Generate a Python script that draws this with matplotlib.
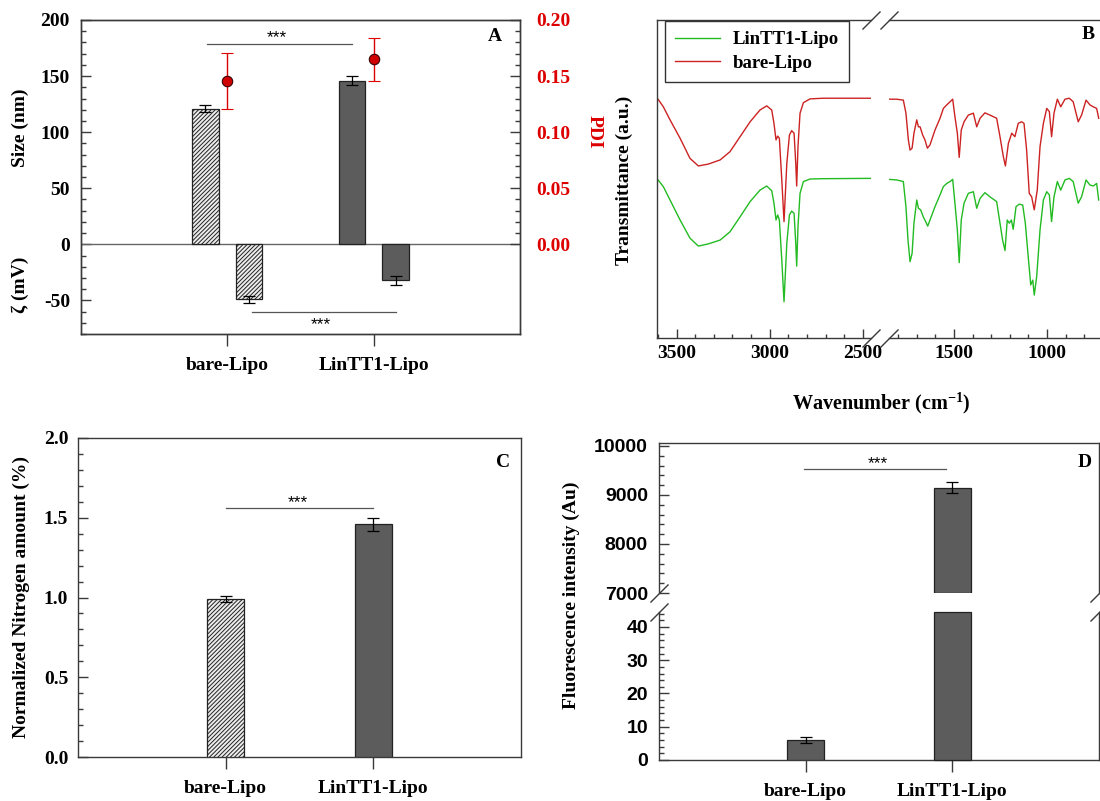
import matplotlib
matplotlib.use('Agg')
import matplotlib.pyplot as plt
from matplotlib.ticker import FixedLocator, MultipleLocator
import numpy as np

plt.rcParams['font.family'] = ['Liberation Serif', 'DejaVu Serif']
plt.rcParams['font.weight'] = 'bold'
plt.rcParams['mathtext.fontset'] = 'custom'
plt.rcParams['mathtext.rm'] = 'Liberation Serif:bold'
plt.rcParams['mathtext.bf'] = 'Liberation Serif:bold'
plt.rcParams['hatch.linewidth'] = 0.7
plt.rcParams['axes.linewidth'] = 1.0

# ---------------- data ----------------
categories = ['bare-Lipo', 'LinTT1-Lipo']
size_nm = [121, 146]
size_err = [3, 4]
zeta_mv = [-49, -32]
zeta_err = [3, 4]
pdi = [0.146, 0.165]
pdi_err = [0.025, 0.019]
nitrogen = [0.99, 1.46]
nitrogen_err = [0.02, 0.04]
fluor = [6, 9150]
fluor_err = [0.9, 120]

ftir_wn_high = [3603, 3571, 3535, 3481, 3428, 3383, 3329, 3266, 3213, 3159, 3105, 3052,
                3016, 2989, 2977, 2966, 2957, 2948, 2935, 2923, 2908, 2894, 2882, 2869,
                2860, 2855, 2848, 2837, 2819, 2783, 2712, 2458]
bare_T_high = [75.4, 72.7, 68.6, 62.8, 56.5, 54.1, 54.7, 56.0, 58.6, 63.3, 68.0, 71.7,
               73.0, 71.7, 67.5, 62.3, 63.5, 62.8, 49.7, 36.6, 54.9, 63.8, 65.2, 64.4,
               54.9, 47.8, 60.2, 70.7, 74.0, 75.2, 75.4, 75.4]
lin_T_high = [50.0, 47.6, 43.4, 37.1, 31.4, 28.9, 29.6, 30.8, 33.4, 38.1, 42.9, 46.5,
              47.8, 46.3, 42.4, 37.1, 38.7, 37.1, 24.5, 11.4, 29.8, 38.7, 39.9, 39.2,
              29.8, 22.6, 35.0, 45.5, 49.2, 50.0, 50.1, 50.2]

bare_wn_low = [1853, 1808, 1772, 1758, 1745, 1736, 1725, 1715, 1700, 1691, 1682, 1668,
               1656, 1643, 1629, 1602, 1575, 1557, 1539, 1521, 1507, 1495, 1482, 1472,
               1461, 1446, 1423, 1396, 1378, 1360, 1334, 1307, 1271, 1253, 1235, 1224,
               1208, 1190, 1173, 1155, 1137, 1124, 1110, 1096, 1083, 1069, 1053, 1038,
               1020, 1002, 988, 976, 963, 945, 927, 904, 881, 860, 833, 815, 791, 770,
               752, 734, 723]
bare_T_low = [75.1, 75.1, 74.8, 70.7, 62.3, 59.1, 59.7, 64.4, 68.6, 66.4, 66.4, 63.8,
              62.3, 59.7, 60.7, 65.4, 69.1, 72.2, 73.3, 74.3, 75.1, 69.6, 64.4, 56.8,
              65.4, 68.0, 70.1, 70.7, 66.4, 69.1, 70.8, 70.1, 69.1, 63.3, 57.0, 54.1,
              61.2, 64.4, 63.3, 67.5, 68.0, 67.5, 59.1, 45.5, 44.4, 40.3, 46.5, 60.2,
              67.5, 72.2, 71.2, 63.3, 70.7, 75.1, 72.7, 75.1, 75.4, 74.3, 68.0, 70.1,
              74.8, 73.3, 72.7, 72.2, 69.1]
lin_wn_low = [1853, 1808, 1772, 1758, 1747, 1736, 1725, 1715, 1700, 1691, 1679, 1665,
              1652, 1641, 1629, 1602, 1575, 1557, 1539, 1521, 1507, 1495, 1482, 1472,
              1461, 1446, 1423, 1396, 1378, 1360, 1334, 1307, 1271, 1253, 1239, 1226,
              1214, 1203, 1192, 1182, 1167, 1149, 1131, 1117, 1103, 1088, 1077, 1069,
              1056, 1038, 1020, 1002, 988, 976, 963, 945, 927, 904, 881, 860, 833, 815,
              791, 770, 752, 734, 723]
lin_T_low = [49.9, 49.7, 49.2, 41.3, 30.8, 24.0, 26.6, 36.1, 43.4, 40.8, 40.3, 38.1,
             36.6, 35.2, 37.1, 41.3, 45.0, 47.6, 48.6, 49.2, 49.9, 42.4, 34.0, 23.7,
             37.1, 42.4, 45.5, 46.0, 40.8, 43.9, 45.7, 44.4, 42.9, 36.1, 30.8, 27.5,
             37.1, 36.1, 37.1, 34.2, 41.3, 42.1, 41.8, 36.1, 26.6, 16.7, 18.2, 13.5,
             19.3, 34.0, 43.4, 46.0, 45.0, 36.6, 44.4, 49.2, 46.5, 49.7, 50.2, 49.2,
             42.4, 44.4, 49.7, 48.1, 47.8, 48.6, 43.4]

# ---------------- styles ----------------
W, H = 1100, 801
SPINE = '#3a3a3a'
DARK = '#5c5c5c'
LIGHT = '#ececec'
EDGE = '#222222'
RED = '#dd0000'
SIG = '#555555'
FS = 14
hatches = ['////////', None]
faces = [LIGHT, DARK]
ekw = dict(elinewidth=0.9, capthick=0.9, ecolor='black')

fig = plt.figure(figsize=(W / 100, H / 100), dpi=100)


def rect(l, r, t, b):
    return [l / W, (H - b) / H, (r - l) / W, (b - t) / H]


def style_spines(ax):
    for s in ax.spines.values():
        s.set_color(SPINE)
        s.set_linewidth(1.0)


def cat_xaxis(ax):
    ax.set_xlim(0, 3)
    ax.set_xticks(np.arange(1, len(categories) + 1), labels=categories,
                  fontsize=FS, fontweight='bold')
    ax.tick_params(axis='x', direction='out', length=8.5, width=1.0, pad=8,
                   color=SPINE, top=False)


def slash(ax, xs, ys):
    ax.plot(xs, ys, transform=ax.transAxes, marker=[(-1, -1), (1, 1)],
            markersize=13, linestyle='none', color=SPINE, mec=SPINE, mew=1.0,
            clip_on=False, zorder=10)


x = np.arange(1, len(categories) + 1)

# ---------------- Panel A ----------------
axA = fig.add_axes(rect(81, 520, 20, 334))
style_spines(axA)
off, bwA = 0.15, 0.18
for i in range(len(categories)):
    axA.bar(x[i] - off, size_nm[i], bwA, yerr=size_err[i], color=faces[i],
            hatch=hatches[i], edgecolor=EDGE, linewidth=0.9, capsize=4,
            error_kw=ekw, zorder=3)
    axA.bar(x[i] + off, zeta_mv[i], bwA, yerr=zeta_err[i], color=faces[i],
            hatch=hatches[i], edgecolor=EDGE, linewidth=0.9, capsize=4,
            error_kw=ekw, zorder=3)
axA.axhline(0, color='#666666', lw=1.0, zorder=2)
axA.set_ylim(-80, 200)
a_major = [-50, 0, 50, 100, 150, 200]
axA.set_yticks(a_major, labels=[str(v) for v in a_major],
               fontsize=FS, fontweight='bold')
axA.yaxis.set_minor_locator(FixedLocator([v for v in range(-80, 201, 10) if v % 50]))
axA.tick_params(axis='y', which='major', direction='in', length=7, width=1.0,
                pad=8, color=SPINE, right=False)
axA.tick_params(axis='y', which='minor', direction='in', length=3.5, width=1.0,
                color=SPINE, right=False)
cat_xaxis(axA)

axA.plot([0.86, 1.85], [178.5, 178.5], color=SIG, lw=0.9)
axA.text(1.34, 180, '***', ha='center', va='baseline', fontsize=12.5,
         fontweight='normal', family='Liberation Sans')
axA.plot([1.17, 2.15], [-60.5, -60.5], color=SIG, lw=0.9)
axA.text(1.64, -76, '***', ha='center', va='baseline', fontsize=12.5,
         fontweight='normal', family='Liberation Sans')
axA.text(0.942, 0.946, 'A', transform=axA.transAxes, ha='center', va='center',
         fontsize=FS, fontweight='bold')

axA2 = axA.twinx()
style_spines(axA2)
axA2.set_ylim(-0.08, 0.20)
p_major = [0.0, 0.05, 0.10, 0.15, 0.20]
axA2.set_yticks(p_major, labels=['%.2f' % v for v in p_major], fontsize=FS,
                fontweight='bold', color=RED)
axA2.yaxis.set_minor_locator(FixedLocator([k / 100 for k in range(1, 20) if k % 5]))
axA2.tick_params(axis='y', which='major', direction='in', length=7, width=1.0,
                 pad=12, color=SPINE)
axA2.tick_params(axis='y', which='minor', direction='in', length=3.5, width=1.0,
                 color=SPINE)
axA2.errorbar(x, pdi, yerr=pdi_err, fmt='o', color=RED, mfc='#d00000', mec='#3a0000',
              mew=0.8, ms=7.5, capsize=4, elinewidth=1.0, capthick=1.0, zorder=5)

fig.text(20 / W, 1 - 128 / H, 'Size (nm)', rotation=90, ha='center', va='center',
         fontsize=FS, fontweight='bold')
fig.text(20 / W, 1 - 285 / H, '\u03b6 (mV)', rotation=90, ha='center', va='center',
         fontsize=FS, fontweight='bold')
fig.text(594 / W, 1 - 132 / H, 'PDI', rotation=270, ha='center', va='center',
         fontsize=FS, fontweight='bold', color=RED)

# ---------------- Panel B ----------------
GREEN = '#22bb22'
BRED = '#cc2222'
axB1 = fig.add_axes(rect(657, 871, 20, 338))
axB2 = fig.add_axes(rect(889, 1100, 20, 338))
for ax in (axB1, axB2):
    style_spines(ax)
    ax.set_ylim(0, 100)
    ax.set_yticks([])
    ax.xaxis.set_minor_locator(MultipleLocator(100))
    ax.tick_params(axis='x', which='major', direction='in', length=6.5, width=1.0,
                   pad=5, color=SPINE, top=False, labelsize=FS)
    ax.tick_params(axis='x', which='minor', direction='in', length=3, width=1.0,
                   color=SPINE, top=False)
axB1.spines['right'].set_visible(False)
axB2.spines['left'].set_visible(False)
axB2.spines['right'].set_visible(False)
axB1.set_xlim(3605, 2456)
axB2.set_xlim(1849, 716)
axB1.set_xticks([3500, 3000, 2500], labels=['3500', '3000', '2500'], fontweight='bold')
axB2.set_xticks([1500, 1000], labels=['1500', '1000'], fontweight='bold')

lg, = axB1.plot(ftir_wn_high, lin_T_high, color=GREEN, lw=1.0, label='LinTT1-Lipo')
lr, = axB1.plot(ftir_wn_high, bare_T_high, color=BRED, lw=1.0, label='bare-Lipo')
axB2.plot(lin_wn_low, lin_T_low, color=GREEN, lw=1.0)
axB2.plot(bare_wn_low, bare_T_low, color=BRED, lw=1.0)

slash(axB1, [1, 1], [0, 1])
slash(axB2, [0, 0], [0, 1])

leg = axB1.legend(handles=[lg, lr], loc='upper left', bbox_to_anchor=(0.037, 0.997),
                  borderaxespad=0, fancybox=False, framealpha=1, edgecolor='#333333',
                  prop={'family': 'Liberation Serif', 'weight': 'bold', 'size': 13.5},
                  handlelength=2.4, handletextpad=0.65, labelspacing=0.33,
                  borderpad=0.55)
leg.get_frame().set_linewidth(1.0)

axB2.text(0.943, 0.953, 'B', transform=axB2.transAxes, ha='center', va='center',
          fontsize=FS, fontweight='bold')
fig.text(624 / W, 1 - 180 / H, 'Transmittance (a.u.)', rotation=90, ha='center',
         va='center', fontsize=FS, fontweight='bold')
fig.text(881 / W, 1 - 403 / H, r'Wavenumber (cm$^{\mathbf{-1}}$)', ha='center',
         va='center', fontsize=14.5, fontweight='bold')

# ---------------- Panel C ----------------
axC = fig.add_axes(rect(78, 521, 438, 757))
style_spines(axC)
bw = 0.25
for i in range(len(categories)):
    axC.bar(x[i], nitrogen[i], bw, yerr=nitrogen_err[i], color=faces[i],
            hatch=hatches[i], edgecolor=EDGE, linewidth=0.9, capsize=4,
            error_kw=ekw, zorder=3)
axC.set_ylim(0, 2.0)
c_major = [0.0, 0.5, 1.0, 1.5, 2.0]
axC.set_yticks(c_major, labels=['%.1f' % v for v in c_major], fontsize=FS,
               fontweight='bold')
axC.yaxis.set_minor_locator(FixedLocator([k / 10 for k in range(1, 20) if k % 5]))
axC.tick_params(axis='y', which='major', direction='in', length=7, width=1.0,
                pad=7, color=SPINE, right=False)
axC.tick_params(axis='y', which='minor', direction='in', length=3.5, width=1.0,
                color=SPINE, right=False)
cat_xaxis(axC)
axC.plot([1.0, 2.0], [1.56, 1.56], color=SIG, lw=0.9)
axC.text(1.49, 1.565, '***', ha='center', va='baseline', fontsize=12.5,
         fontweight='normal', family='Liberation Sans')
axC.text(0.959, 0.922, 'C', transform=axC.transAxes, ha='center', va='center',
         fontsize=FS, fontweight='bold')
fig.text(21 / W, 1 - 597 / H, 'Normalized Nitrogen amount (%)', rotation=90,
         ha='center', va='center', fontsize=FS, fontweight='bold')

# ---------------- Panel D ----------------
axD1 = fig.add_axes(rect(659, 1099, 443, 593))
axD2 = fig.add_axes(rect(659, 1099, 612, 760))
for ax in (axD1, axD2):
    style_spines(ax)
axD1.spines['bottom'].set_visible(False)
axD2.spines['top'].set_visible(False)
up_lo, up_hi = 7000, 10060
lo_hi = 44.5
axD1.set_ylim(up_lo, up_hi)
axD2.set_ylim(0, lo_hi)
axD1.set_xlim(0, 3)

for i in range(len(categories)):
    if fluor[i] > up_lo:
        axD1.bar(x[i], fluor[i] - up_lo, bw, bottom=up_lo, yerr=fluor_err[i],
                 color=DARK, edgecolor=EDGE, linewidth=0.9, capsize=4,
                 error_kw=ekw, zorder=3)
        axD2.bar(x[i], lo_hi, bw, color=DARK, edgecolor=EDGE, linewidth=0.9,
                 zorder=3, clip_on=False)
    else:
        axD2.bar(x[i], fluor[i], bw, yerr=fluor_err[i], color=DARK, edgecolor=EDGE,
                 linewidth=0.9, capsize=4, error_kw=ekw, zorder=3)

d_up = [7000, 8000, 9000, 10000]
axD1.set_yticks(d_up, labels=[str(v) for v in d_up], fontsize=FS, fontweight='bold',
                fontfamily='Liberation Sans')
axD1.yaxis.set_minor_locator(FixedLocator([v for v in range(7000, 10001, 200) if v % 1000]))
d_lo = [0, 10, 20, 30, 40]
axD2.set_yticks(d_lo, labels=[str(v) for v in d_lo], fontsize=FS, fontweight='bold',
                fontfamily='Liberation Sans')
axD2.yaxis.set_minor_locator(FixedLocator([v for v in range(0, 45, 2) if v % 10]))
for ax in (axD1, axD2):
    ax.tick_params(axis='y', which='major', direction='in', length=7, width=1.0,
                   pad=8, color=SPINE, right=False)
    ax.tick_params(axis='y', which='minor', direction='in', length=3.5, width=1.0,
                   color=SPINE, right=False)
axD1.set_xticks([])
cat_xaxis(axD2)

slash(axD1, [0, 1], [0, 0])
slash(axD2, [0, 1], [1, 1])

axD1.plot([0.99, 1.96], [9530, 9530], color=SIG, lw=0.9)
axD1.text(1.49, 9545, '***', ha='center', va='baseline', fontsize=12.5,
          fontweight='normal', family='Liberation Sans')
axD1.text(0.968, 0.867, 'D', transform=axD1.transAxes, ha='center', va='center',
          fontsize=FS, fontweight='bold')
fig.text(571 / W, 1 - 595 / H, 'Fluorescence intensity (Au)', rotation=90,
         ha='center', va='center', fontsize=FS, fontweight='bold')

fig.savefig('out.png', dpi=100)
